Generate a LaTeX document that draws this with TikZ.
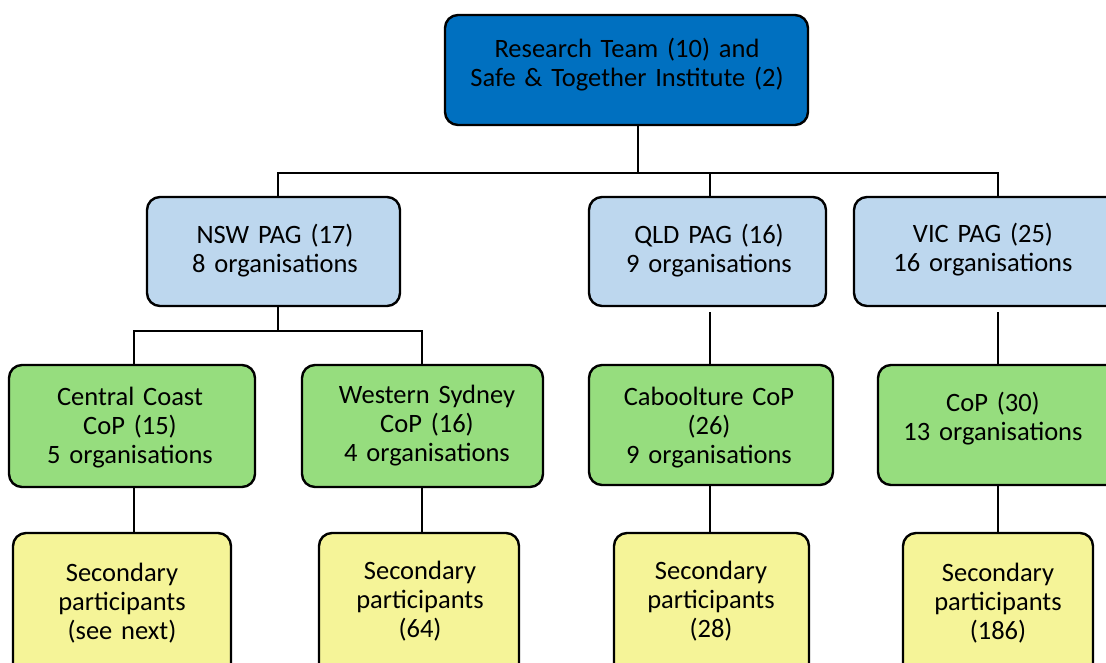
\documentclass[tikz,border=0pt]{standalone}
\usepackage{fontspec}
\setmainfont{Carlito}
\begin{document}
\begin{tikzpicture}[x=1pt,y=-1pt,
  box/.style={draw=black, line width=2.4pt, rounded corners=13pt, inner sep=0pt},
  topbox/.style={box, fill={rgb,255:red,0;green,112;blue,192}},
  pagbox/.style={box, fill={rgb,255:red,189;green,215;blue,238}},
  copbox/.style={box, fill={rgb,255:red,150;green,221;blue,126}},
  secbox/.style={box, fill={rgb,255:red,245;green,244;blue,152}},
  txt/.style={anchor=base, align=center, text width=340pt, inner sep=0pt,
    font=\fontsize{26.5}{29}\selectfont},
  conn/.style={draw=black, line width=2.4pt}]
\useasboundingbox (0,0) rectangle (1106,662);
\clip (0,0) rectangle (1106,662);
% boxes
\node[topbox, minimum width=363pt, minimum height=110pt] (top) at (626.5,70) {};
\node[pagbox, minimum width=253pt, minimum height=109pt] (nsw) at (273.5,251.5) {};
\node[pagbox, minimum width=237pt, minimum height=109pt] (qld) at (707.5,251.5) {};
\node[pagbox, minimum width=276pt, minimum height=109pt] (vic) at (992,251.5) {};
\node[copbox, minimum width=246pt, minimum height=122pt] (cc) at (132,426) {};
\node[copbox, minimum width=241pt, minimum height=122pt] (ws) at (422.5,426) {};
\node[copbox, minimum width=244pt, minimum height=120pt] (cab) at (711,425) {};
\node[copbox, minimum width=252pt, minimum height=120pt] (vcop) at (1004,425) {};
\node[secbox, minimum width=218pt, minimum height=167pt] (s1) at (122,616.5) {};
\node[secbox, minimum width=200pt, minimum height=167pt] (s2) at (419,616.5) {};
\node[secbox, minimum width=195pt, minimum height=167pt] (s3) at (711.5,616.5) {};
\node[secbox, minimum width=190pt, minimum height=167pt] (s4) at (998,616.5) {};
% texts
\node[txt] (ttop) at (627,57) {Research Team (10) and\\Safe \& Together Institute (2)};
\node[txt] (tnsw) at (275,243) {NSW PAG (17)\\8 organisations};
\node[txt] (tqld) at (709,243) {QLD PAG (16)\\9 organisations};
\node[txt] (tvic) at (983,242) {VIC PAG (25)\\16 organisations};
\node[txt] (tcc) at (130,405) {Central Coast\\CoP (15)\\5 organisations};
\node[txt] (tws) at (427,403) {Western Sydney\\CoP (16)\\4 organisations};
\node[txt] (tcab) at (709,405) {Caboolture CoP\\(26)\\9 organisations};
\node[txt] (tvcop) at (993,411) {CoP (30)\\13 organisations};
\node[txt] (ts1) at (122,581) {Secondary\\participants\\(see next)};
\node[txt] (ts2) at (420,579) {Secondary\\participants\\(64)};
\node[txt] (ts3) at (711,579) {Secondary\\participants\\(28)};
\node[txt] (ts4) at (998,581) {Secondary\\participants\\(186)};
% connector positions
\coordinate (bus) at (638,173);
\coordinate (xnsw) at (278,0);
\coordinate (xqld) at (710,0);
\coordinate (xvic) at (998,0);
\coordinate (nb) at (278,331);
\coordinate (xcc) at (134,0);
\coordinate (xws) at (422,0);
% connectors
\draw[conn] (top.south -| bus) -- (bus);
\draw[conn] (nsw.north -| xnsw) |- (bus) -| (vic.north -| xvic);
\draw[conn] (bus -| xqld) -- (qld.north -| xqld);
\draw[conn] (nsw.south -| nb) -- (nb);
\draw[conn] (cc.north -| xcc) |- (nb) -| (ws.north -| xws);
\draw[conn, shorten <=5pt] (qld.south -| xqld) -- (cab.north -| xqld);
\draw[conn, shorten <=5pt] (vic.south -| xvic) -- (vcop.north -| xvic);
\draw[conn] (cc.south -| xcc) -- (s1.north -| xcc);
\draw[conn] (ws.south -| xws) -- (s2.north -| xws);
\draw[conn] (cab.south -| xqld) -- (s3.north -| xqld);
\draw[conn] (vcop.south -| xvic) -- (s4.north -| xvic);
\end{tikzpicture}
\end{document}
